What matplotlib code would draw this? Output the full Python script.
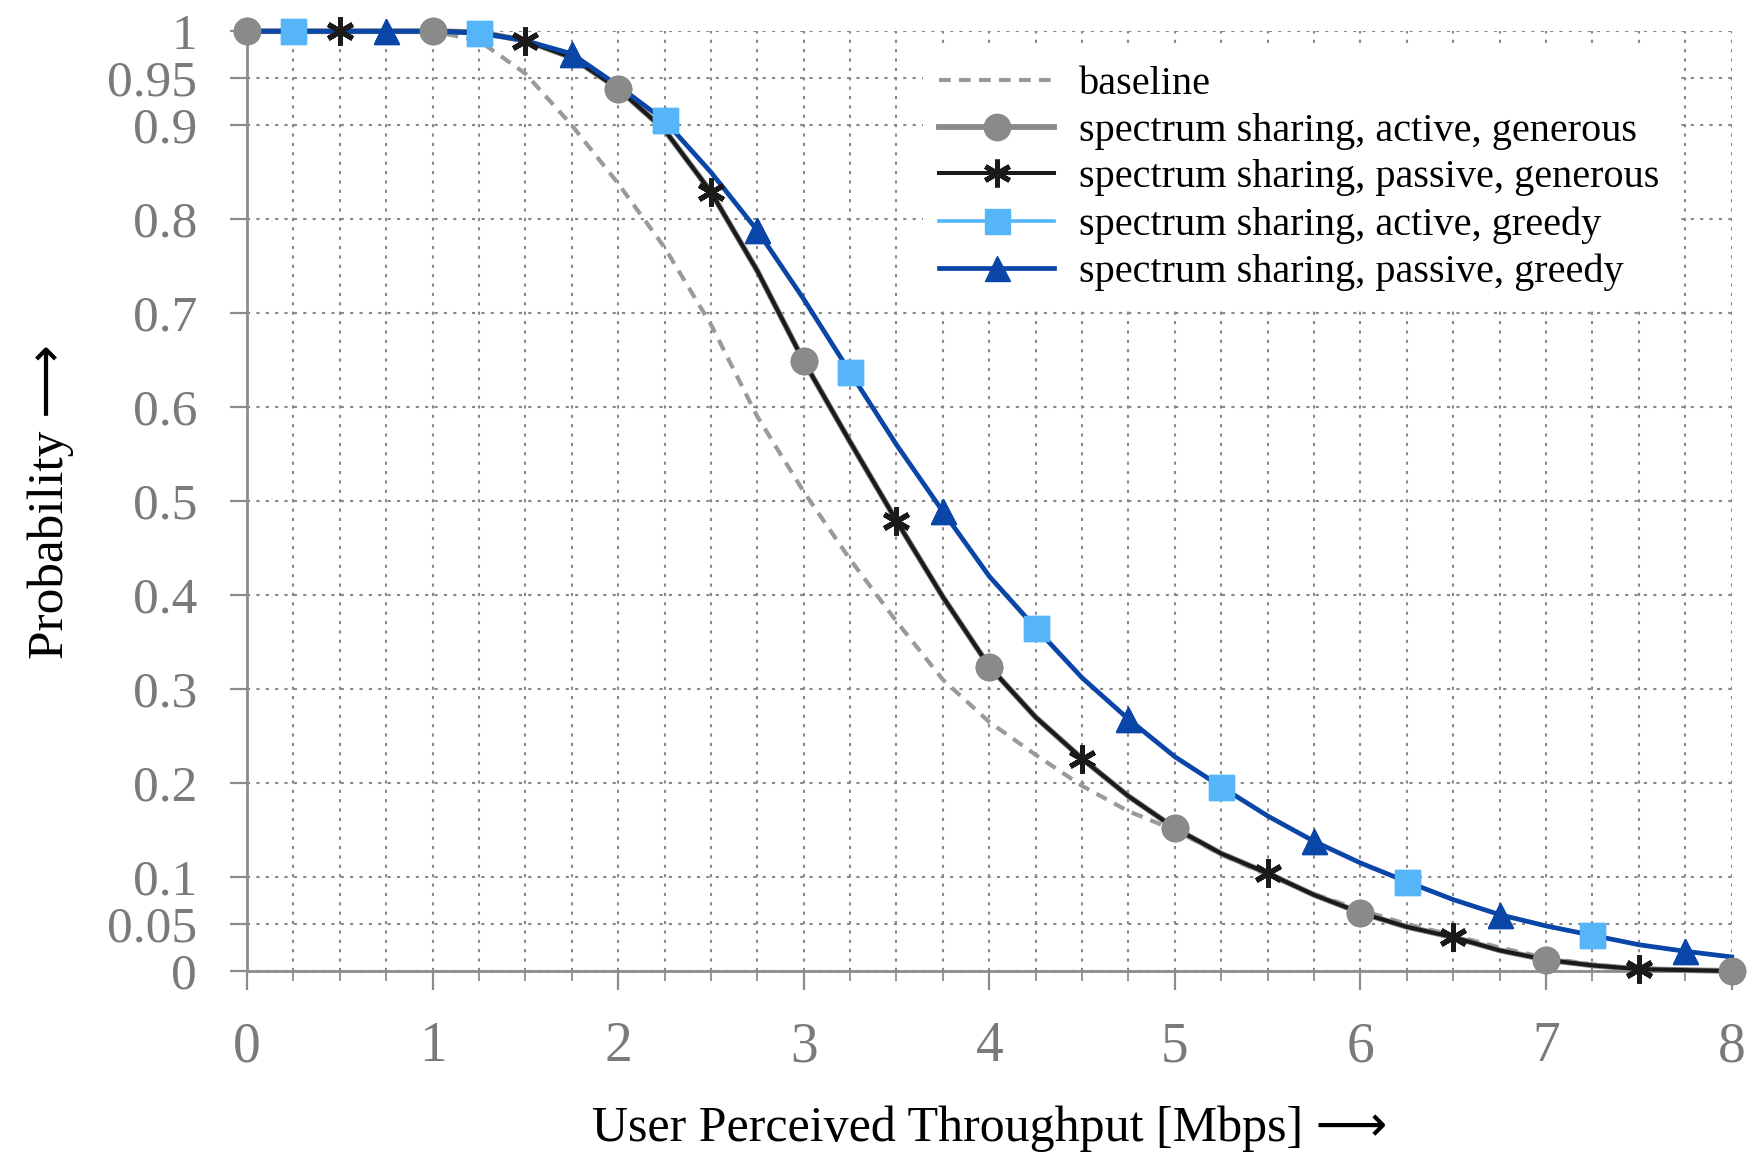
import matplotlib
matplotlib.use('Agg')
import matplotlib.pyplot as plt

plt.rcParams['font.family'] = ['Liberation Serif', 'DejaVu Sans']

# valores, passo de 0.25 Mbps
throughput = [0.0, 0.25, 0.5, 0.75, 1.0, 1.25, 1.5, 1.75, 2.0, 2.25, 2.5, 2.75,
              3.0, 3.25, 3.5, 3.75, 4.0, 4.25, 4.5, 4.75, 5.0, 5.25, 5.5, 5.75,
              6.0, 6.25, 6.5, 6.75, 7.0, 7.25, 7.5, 7.75, 8.0]

baseline = [1.000, 1.000, 1.000, 1.000, 1.000, 0.990, 0.955, 0.900, 0.838, 0.770,
            0.688, 0.590, 0.510, 0.438, 0.372, 0.310, 0.265, 0.230, 0.197, 0.170,
            0.150, 0.124, 0.102, 0.082, 0.065, 0.050, 0.038, 0.025, 0.014, 0.007,
            0.003, 0.001, 0.000]

active_generous = [1.000, 1.000, 1.000, 1.000, 1.000, 0.999, 0.990, 0.972, 0.939, 0.895,
                   0.829, 0.745, 0.649, 0.563, 0.479, 0.398, 0.324, 0.270, 0.226, 0.186,
                   0.152, 0.125, 0.104, 0.081, 0.062, 0.047, 0.036, 0.022, 0.012, 0.006,
                   0.002, 0.001, 0.000]

passive_generous = [1.000, 1.000, 1.000, 1.000, 1.000, 0.999, 0.990, 0.972, 0.939, 0.895,
                    0.829, 0.745, 0.649, 0.563, 0.479, 0.398, 0.324, 0.270, 0.226, 0.186,
                    0.152, 0.125, 0.104, 0.081, 0.062, 0.047, 0.036, 0.022, 0.012, 0.006,
                    0.002, 0.001, 0.000]

active_greedy = [1.000, 1.000, 1.000, 1.000, 1.000, 0.998, 0.990, 0.976, 0.942, 0.905,
                 0.850, 0.788, 0.715, 0.637, 0.560, 0.489, 0.420, 0.365, 0.312, 0.268,
                 0.228, 0.196, 0.165, 0.138, 0.115, 0.095, 0.076, 0.060, 0.048, 0.038,
                 0.028, 0.021, 0.015]

passive_greedy = [1.000, 1.000, 1.000, 1.000, 1.000, 0.998, 0.990, 0.976, 0.942, 0.905,
                  0.850, 0.788, 0.715, 0.637, 0.560, 0.489, 0.420, 0.365, 0.312, 0.268,
                  0.228, 0.196, 0.165, 0.138, 0.115, 0.095, 0.076, 0.060, 0.048, 0.038,
                  0.028, 0.021, 0.015]

x_ticks = [0, 1, 2, 3, 4, 5, 6, 7, 8]
x_minor = [0.25, 0.5, 0.75, 1.25, 1.5, 1.75, 2.25, 2.5, 2.75, 3.25, 3.5, 3.75,
           4.25, 4.5, 4.75, 5.25, 5.5, 5.75, 6.25, 6.5, 6.75, 7.25, 7.5, 7.75]
y_ticks = [0, 0.05, 0.1, 0.2, 0.3, 0.4, 0.5, 0.6, 0.7, 0.8, 0.9, 0.95, 1]
y_labels = ['0', '0.05', '0.1', '0.2', '0.3', '0.4', '0.5', '0.6', '0.7', '0.8', '0.9', '0.95', '1']

fig = plt.figure(figsize=(17.55, 11.56), dpi=100)
ax = fig.add_axes([0.1407, 0.160, 0.846, 0.813])

STAR = (6, 2, 0)

# curvas: (dados, rotulo, cor, largura, marcador, tamanho, inicio do marcador)
series = [
    (active_generous, 'spectrum sharing, active, generous', '#8a8a8a', 4.2, 'o', 19, 0),
    (passive_generous, 'spectrum sharing, passive, generous', '#1a1a1a', 2.9, STAR, 20, 2),
    (active_greedy, 'spectrum sharing, active, greedy', '#55b5f8', 2.6, 's', 18, 1),
    (passive_greedy, 'spectrum sharing, passive, greedy', '#0a45a8', 3.4, '^', 18, 3),
]

ax.plot(throughput, baseline, color='#9a9a9a', lw=3.0, ls=(0, (2.8, 2)),
        label='baseline', zorder=2, clip_on=False)

for dados, rotulo, cor, lw, mk, ms, ini in series:
    ax.plot(throughput, dados, color=cor, lw=lw, marker=mk, markevery=(ini, 4),
            ms=ms, mec=cor, mfc=cor, mew=3.6 if mk == STAR else 1,
            label=rotulo, zorder=3, clip_on=False)

# marcadores por cima das linhas
for dados, rotulo, cor, lw, mk, ms, ini in series:
    ax.plot(throughput[ini::4], dados[ini::4], ls='none', marker=mk, ms=ms,
            mec=cor, mfc=cor, mew=3.6 if mk == STAR else 1,
            zorder=5, clip_on=False)

ax.set_xlim(0, 8)
ax.set_ylim(0, 1)
ax.set_xticks(x_ticks)
ax.set_xticks(x_minor, minor=True)
ax.set_yticks(y_ticks)
ax.set_yticklabels(y_labels)

ax.grid(True, which='both', axis='x', color='#888888', lw=1.5, ls=(0, (1.5, 3)))
ax.grid(True, which='major', axis='y', color='#888888', lw=1.5, ls=(0, (1.5, 3)))
ax.set_axisbelow(True)

for lado in ['top', 'right']:
    ax.spines[lado].set_visible(False)
for lado in ['left', 'bottom']:
    ax.spines[lado].set_color('#8c8c8c')
    ax.spines[lado].set_linewidth(2.0)

ax.tick_params(axis='x', which='major', length=14, width=1.6, color='#8c8c8c',
               labelcolor='#7a7a7a', labelsize=40, pad=22)
ax.tick_params(axis='x', which='minor', length=7, width=1.3, color='#8c8c8c')
ax.tick_params(axis='y', which='major', length=12, width=1.6, color='#8c8c8c',
               labelcolor='#7a7a7a', labelsize=37, pad=24)

ax.set_xlabel('User Perceived Throughput [Mbps] \u27f6', fontsize=36, color='black', va='center')
ax.xaxis.set_label_coords(0.5, -0.168)
ax.set_ylabel('Probability \u27f6', fontsize=37, color='black', va='center')
ax.yaxis.set_label_coords(-0.132, 0.5)

leg = ax.legend(loc='upper left', bbox_to_anchor=(0.442, 1.002), frameon=True,
                facecolor='white', edgecolor='none', framealpha=1,
                prop={'family': 'Liberation Serif', 'size': 29},
                handlelength=2.85, handletextpad=0.62, labelspacing=0.24,
                borderpad=0.4, numpoints=1)
leg.set_zorder(6)

fig.savefig('out.png', dpi=100)
